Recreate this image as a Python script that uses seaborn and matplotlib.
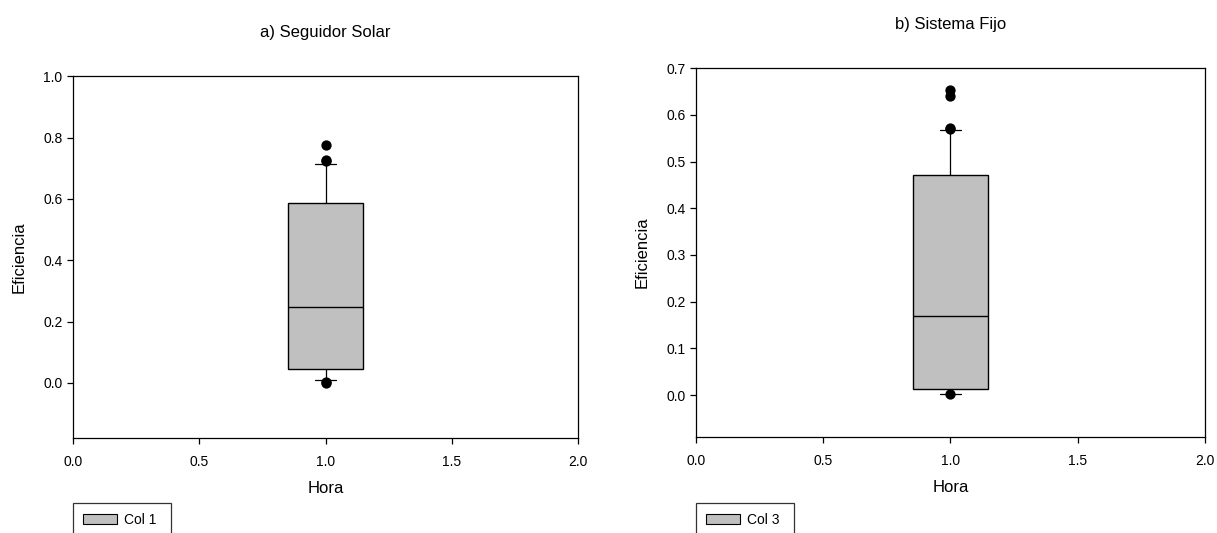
import matplotlib
matplotlib.use("Agg")
import matplotlib.pyplot as plt
from matplotlib.patches import Patch
import seaborn as sns
import pandas as pd

# box summaries (whiskers at 10th / 90th percentiles)
col1_stats = dict(q1=0.047, med=0.246, q3=0.588, whislo=0.010, whishi=0.715)
col1_fliers = [0.775, 0.728, 0.722, 0.004, 0.001]

col3_stats = dict(q1=0.014, med=0.170, q3=0.472, whislo=0.003, whishi=0.567)
col3_fliers = [0.653, 0.640, 0.573, 0.570, 0.002]

titles = ["a) Seguidor Solar", "b) Sistema Fijo"]
legend_labels = ["Col 1", "Col 3"]
x_ticks = [0.0, 0.5, 1.0, 1.5, 2.0]
y_ticks_a = [0.0, 0.2, 0.4, 0.6, 0.8, 1.0]
y_ticks_b = [0.0, 0.1, 0.2, 0.3, 0.4, 0.5, 0.6, 0.7]

sns.set_style("ticks")
plt.rcParams["font.family"] = ["Liberation Sans", "DejaVu Sans"]
plt.rcParams["text.color"] = "black"
plt.rcParams["axes.labelcolor"] = "black"
plt.rcParams["xtick.color"] = "black"
plt.rcParams["ytick.color"] = "black"

fig = plt.figure(figsize=(12.17, 5.33), dpi=100)
ax_a = fig.add_axes([0.060, 0.178, 0.415, 0.679])
ax_b = fig.add_axes([0.572, 0.180, 0.418, 0.692])

box_color = "#c0c0c0"


def draw_box(ax, stats, fliers, ylim, yticks, title):
    ax.bxp([stats], positions=[1], widths=0.295, patch_artist=True,
           showfliers=False, capwidths=[0.08],
           boxprops=dict(facecolor=box_color, edgecolor="black", linewidth=1.0),
           medianprops=dict(color="black", linewidth=1.0),
           whiskerprops=dict(color="black", linewidth=0.9),
           capprops=dict(color="black", linewidth=0.9))
    pts = pd.DataFrame({"x": [1.0] * len(fliers), "y": fliers})
    sns.scatterplot(data=pts, x="x", y="y", ax=ax, color="black", s=55,
                    edgecolor="black", linewidth=0, zorder=4)
    ax.set_xlim(0, 2)
    ax.set_ylim(*ylim)
    ax.set_xticks(x_ticks)
    ax.set_xticklabels([f"{t:.1f}" for t in x_ticks])
    ax.set_yticks(yticks)
    ax.set_yticklabels([f"{t:.1f}" for t in yticks])
    ax.tick_params(labelsize=10, length=4, width=0.9, color="black",
                   direction="out")
    ax.tick_params(axis="x", pad=8)
    for sp in ax.spines.values():
        sp.set_visible(True)
        sp.set_color("black")
        sp.set_linewidth(0.9)
    ax.set_xlabel("Hora", fontsize=12, labelpad=9)
    ax.set_ylabel("Eficiencia", fontsize=12, labelpad=12)
    ax.set_title(title, fontsize=12, pad=28)


draw_box(ax_a, col1_stats, col1_fliers, (-0.18, 1.0), y_ticks_a, titles[0])
draw_box(ax_b, col3_stats, col3_fliers, (-0.09, 0.7), y_ticks_b, titles[1])

for x0, lab in [(73 / 1217, legend_labels[0]), (696 / 1217, legend_labels[1])]:
    handle = Patch(facecolor=box_color, edgecolor="black", linewidth=0.8)
    top = 1 - 502.5 / 533
    leg = fig.legend(handles=[handle], labels=[lab], loc="upper left",
                     bbox_to_anchor=(x0, top - 0.01, 98 / 1217, 0.01),
                     mode="expand", fontsize=10,
                     frameon=True, fancybox=False, borderaxespad=0,
                     borderpad=0.75, handlelength=2.4, handleheight=0.8,
                     handletextpad=0.55)
    leg.get_frame().set_edgecolor("black")
    leg.get_frame().set_linewidth(0.9)

fig.savefig("out.png", dpi=100)
